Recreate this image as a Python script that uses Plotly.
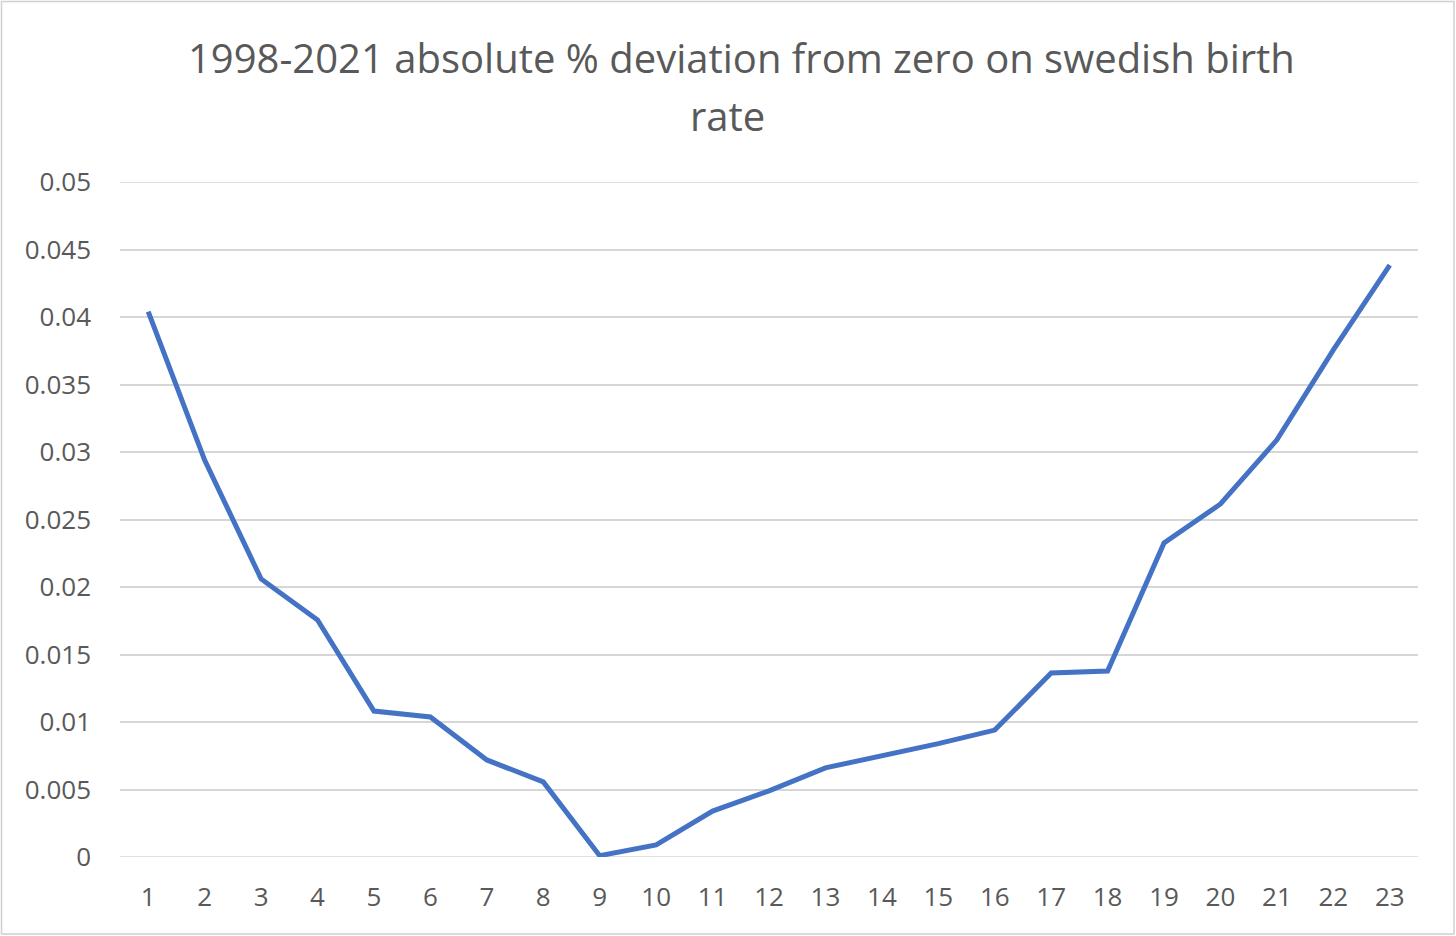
import plotly.graph_objects as go

x_vals = list(range(1, 24))
deviation = [0.0404, 0.0294, 0.0206, 0.01756, 0.01081, 0.01037, 0.00719, 0.00556,
             0.0001, 0.00089, 0.0034, 0.0049, 0.0066, 0.0075, 0.0084, 0.0094,
             0.01363, 0.01378, 0.02326, 0.02615, 0.0309, 0.03756, 0.04385]
y_ticks = [0, 0.005, 0.01, 0.015, 0.02, 0.025, 0.03, 0.035, 0.04, 0.045, 0.05]
y_tick_text = ["0", "0.005", "0.01", "0.015", "0.02", "0.025", "0.03", "0.035", "0.04", "0.045", "0.05"]
title_lines = ["1998-2021 absolute % deviation from zero on swedish birth", "rate"]

W, H = 1456, 936
L, R, T, B = 120, 38, 182, 79
pw, ph = W - L - R, H - T - B

def px_x(px):
    return (px - L) / pw

def px_y(py):
    return (H - B - py) / ph

fig = go.Figure()
fig.add_trace(go.Scatter(x=x_vals, y=deviation, mode="lines",
                         line=dict(color="#4472C4", width=5)))

fig.update_layout(
    width=W, height=H,
    margin=dict(l=L, r=R, t=T, b=B),
    paper_bgcolor="white", plot_bgcolor="white",
    showlegend=False,
    font=dict(family="Open Sans", color="#595959", size=26),
    xaxis=dict(range=[0.5, 23.5], tickmode="array", tickvals=x_vals,
               ticktext=[str(v) for v in x_vals], showgrid=False, zeroline=False,
               showline=False, ticks="", ticklabelstandoff=22,
               tickfont=dict(size=26, color="#595959")),
    yaxis=dict(range=[0, 0.05], tickmode="array", tickvals=y_ticks, ticktext=y_tick_text,
               showgrid=True, gridcolor="#d6d6d6", gridwidth=1.5, zeroline=False,
               showline=False, ticks="", ticklabelstandoff=28,
               tickfont=dict(size=26, color="#595959")),
)

# gridlines at the range ends (plotly omits them)
for yv in (0, 0.05):
    fig.add_shape(type="line", xref="paper", yref="y", x0=0, x1=1, y0=yv, y1=yv,
                  line=dict(color="#d6d6d6", width=1.5), layer="below")

# outer chart border
fig.add_shape(type="rect", xref="paper", yref="paper",
              x0=px_x(1.5), x1=px_x(W - 2), y0=px_y(H - 2), y1=px_y(1.5),
              line=dict(color="#d0d0d0", width=1.5))

# title as two annotations to reproduce line spacing
fig.add_annotation(text=title_lines[0], xref="paper", yref="paper",
                   x=px_x(741), y=px_y(57), xanchor="center", yanchor="middle",
                   showarrow=False, font=dict(family="Open Sans", size=40, color="#595959"))
fig.add_annotation(text=title_lines[1], xref="paper", yref="paper",
                   x=px_x(727), y=px_y(115), xanchor="center", yanchor="middle",
                   showarrow=False, font=dict(family="Open Sans", size=40, color="#595959"))

fig.write_html("out.html", config={"displayModeBar": False},
               post_script="document.body.style.margin='0';")
